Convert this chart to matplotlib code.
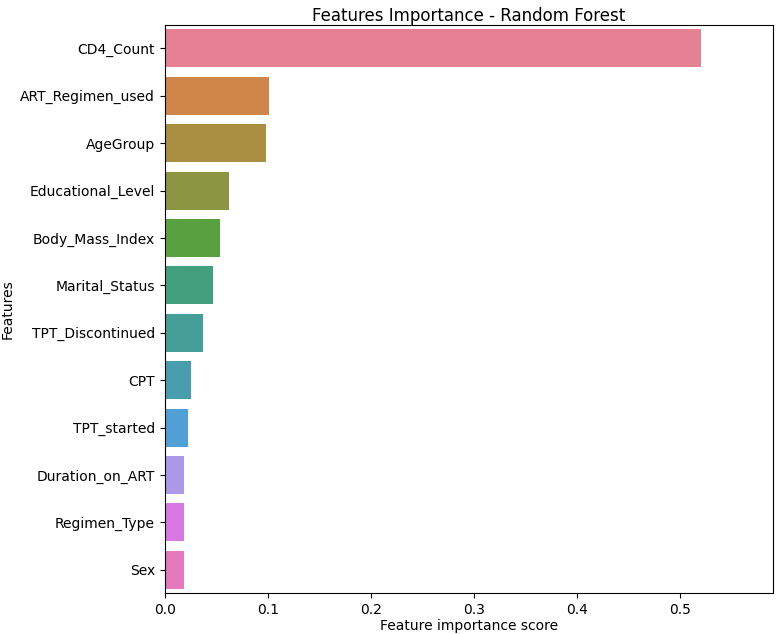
import matplotlib
matplotlib.use("Agg")
import matplotlib.pyplot as plt
import seaborn as sns

features = ["CD4_Count", "ART_Regimen_used", "AgeGroup", "Educational_Level",
            "Body_Mass_Index", "Marital_Status", "TPT_Discontinued", "CPT",
            "TPT_started", "Duration_on_ART", "Regimen_Type", "Sex"]
scores = [0.52, 0.101, 0.098, 0.062, 0.054, 0.047, 0.037, 0.025,
          0.023, 0.019, 0.019, 0.019]

fig = plt.figure(figsize=(7.77, 6.34), dpi=100)
ax = fig.add_axes([0.212, 0.064, 0.783, 0.897])
sns.barplot(x=scores, y=features, hue=features, palette="husl", saturation=0.75,
            legend=False, ax=ax)
ax.set_xlim(0, 0.59)
ax.set_xlabel("Feature importance score", labelpad=1)
ax.set_ylabel("Features")
ax.set_title("Features Importance - Random Forest", pad=3)
fig.savefig("out.png", dpi=100)
